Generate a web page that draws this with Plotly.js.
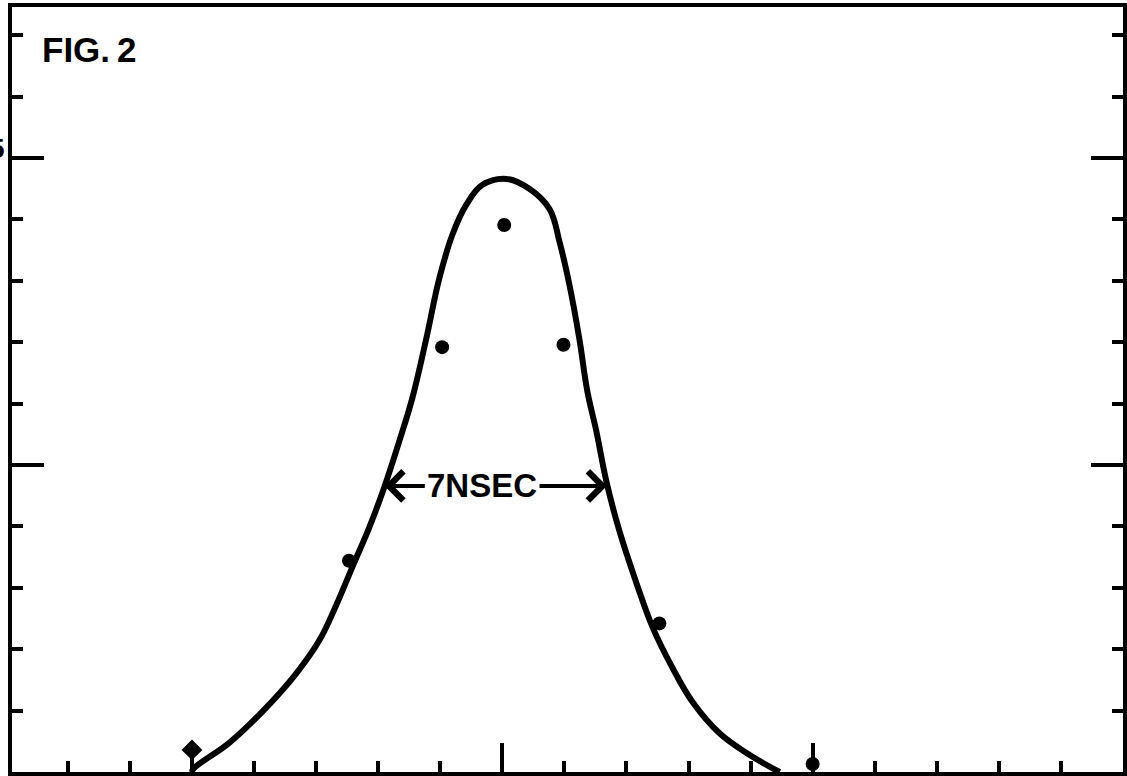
<!DOCTYPE html>
<html>
<head>
<meta charset="utf-8">
<script src="https://cdn.plot.ly/plotly-3.0.1.min.js"></script>
<style>html,body{margin:0;padding:0;background:#fff;}#chart{width:1127px;height:776px;}</style>
</head>
<body>
<div id="chart"></div>
<script>
// Fitted pulse curve (time in ns, relative amplitude)
var curveTime = [-10.0, -9.94, -8.81, -7.74, -6.65, -5.90, -5.35, -4.84, -4.29, -3.81, -3.32, -2.90, -2.45, -2.03, -1.61, -1.16, -0.65, 0.13, 0.87, 1.52, 1.84, 2.16, 2.48, 2.74, 3.03, 3.35, 3.77, 4.32, 4.84, 5.48, 6.13, 7.00, 7.87, 8.71, 8.94];
var curveAmp  = [0.0, 0.06, 0.47, 0.98, 1.60, 2.14, 2.72, 3.33, 3.98, 4.63, 5.39, 6.09, 7.06, 8.04, 8.75, 9.24, 9.56, 9.66, 9.50, 9.17, 8.64, 7.94, 7.06, 6.20, 5.55, 4.74, 3.93, 3.08, 2.36, 1.70, 1.14, 0.63, 0.31, 0.06, 0.0];

// Measured points
var dotTime = [-4.94, -1.94, 0.06, 1.97, 5.06, 10.0];
var dotAmp  = [3.44, 6.92, 8.91, 6.96, 2.42, 0.13];
var diamondTime = [-10.0];
var diamondAmp  = [0.36];

var figLabel = "FIG.&#8201;2";
var widthLabel = "7NSEC";
var widthLeft = -3.80, widthRight = 3.37, widthLevel = 4.66, widthTextLeft = -2.45, widthTextRight = 1.15;

var traces = [
  {x: curveTime, y: curveAmp, mode: 'lines', line: {color: '#000', width: 6, shape: 'spline', smoothing: 1.1}, hoverinfo: 'skip', cliponaxis: false},
  {x: dotTime, y: dotAmp, mode: 'markers', marker: {color: '#000', size: 14, symbol: 'circle'}, cliponaxis: false},
  {x: diamondTime, y: diamondAmp, mode: 'markers', marker: {color: '#000', size: 16, symbol: 'diamond'}, cliponaxis: false}
];

var font = {family: 'Liberation Sans, Arial, sans-serif', color: '#000'};

var layout = {
  width: 1127, height: 776,
  margin: {l: 12, r: 4, t: 7, b: 4, pad: 0},
  paper_bgcolor: '#fff', plot_bgcolor: '#fff',
  showlegend: false,
  xaxis: {
    range: [-15.80, 20.0], showgrid: false, zeroline: false,
    showline: true, linecolor: '#000', linewidth: 4, mirror: true,
    ticks: 'inside', tickmode: 'linear', tick0: 0, dtick: 10, ticklen: 29, tickwidth: 4, tickcolor: '#000',
    showticklabels: false,
    minor: {ticks: 'inside', tickmode: 'linear', tick0: 0, dtick: 2, ticklen: 11, tickwidth: 4, tickcolor: '#000', showgrid: false}
  },
  yaxis: {
    range: [0, 12.46], showgrid: false, zeroline: false,
    showline: true, linecolor: '#000', linewidth: 4, mirror: 'ticks',
    ticks: 'inside', tickmode: 'linear', tick0: 0, dtick: 5, ticklen: 32, tickwidth: 4, tickcolor: '#000',
    showticklabels: false,
    minor: {ticks: 'inside', tickmode: 'linear', tick0: 0, dtick: 1, ticklen: 11, tickwidth: 4, tickcolor: '#000', showgrid: false}
  },
  annotations: [
    {xref: 'paper', yref: 'paper', x: 0.025, y: 0.972, xanchor: 'left', yanchor: 'top', text: '<b>' + figLabel + '</b>', showarrow: false, font: Object.assign({size: 35}, font)},
    {xref: 'paper', yref: 'y', x: -0.0045, y: 10.15, xanchor: 'right', yanchor: 'middle', text: '<b>5</b>', showarrow: false, font: Object.assign({size: 28}, font)},
    {xref: 'x', yref: 'y', x: (widthTextLeft + widthTextRight) / 2, y: widthLevel, xanchor: 'center', yanchor: 'middle', text: '<b>' + widthLabel + '</b>', showarrow: false, font: Object.assign({size: 33}, font)},
    {xref: 'x', yref: 'y', axref: 'x', ayref: 'y', x: widthLeft, y: widthLevel, ax: widthTextLeft, ay: widthLevel, text: '', showarrow: true, arrowhead: 4, arrowsize: 1.4, arrowwidth: 4, arrowcolor: '#000', standoff: 0, startstandoff: 0},
    {xref: 'x', yref: 'y', axref: 'x', ayref: 'y', x: widthRight, y: widthLevel, ax: widthTextRight, ay: widthLevel, text: '', showarrow: true, arrowhead: 4, arrowsize: 1.4, arrowwidth: 4, arrowcolor: '#000', standoff: 0, startstandoff: 0}
  ]
};

Plotly.newPlot('chart', traces, layout, {displayModeBar: false, staticPlot: true});
</script>
</body>
</html>
